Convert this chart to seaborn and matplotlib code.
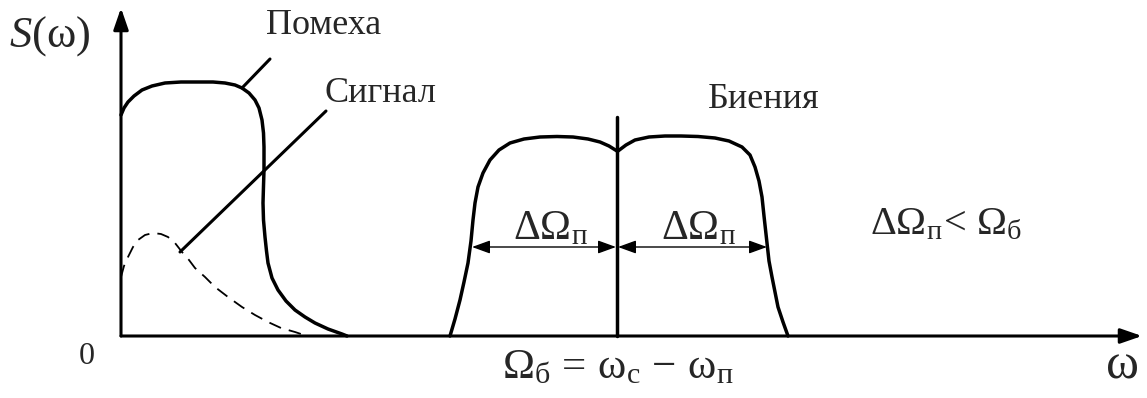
import numpy as np
import pandas as pd
import matplotlib
matplotlib.use("Agg")
import matplotlib.pyplot as plt
import seaborn as sns

sns.set_style("white")
plt.rcParams['font.family'] = ['Liberation Serif', 'DejaVu Serif']
plt.rcParams['mathtext.fontset'] = 'custom'
plt.rcParams['mathtext.rm'] = 'Liberation Serif'
plt.rcParams['mathtext.it'] = 'Liberation Serif:italic'
plt.rcParams['mathtext.default'] = 'rm'

# ---- data (schematic spectra) ----
interf_x = [0, 3, 7, 13, 21, 31, 44, 60, 77, 92, 104, 114, 121, 128, 134, 138, 141, 142.5, 143, 143,
            142.5, 142, 142.5, 144, 145.5, 147, 151, 157, 165, 174, 184, 194, 207, 221, 226]
interf_y = [221, 228, 234, 240, 246, 250, 253, 254, 254, 254, 253, 251, 248, 243, 236, 228, 216, 203, 189, 166,
            150, 133, 116, 99, 85, 73, 58, 46, 35, 26, 19, 13, 7, 2, 0]

signal_x = [0, 3, 7, 12, 17, 24, 32, 40, 47, 54, 61, 68, 74, 84, 94, 107, 121, 134, 147, 160, 174, 180]
signal_y = [59, 70, 79, 89, 96, 101, 103, 102, 99, 93, 84, 76, 68, 59, 49, 39, 29, 21, 14, 8, 4, 2]

beat_left_x = [329, 334, 339, 343, 347, 350, 352, 354, 357, 362, 369, 378, 389, 403, 419, 436, 452, 467, 479, 488, 496]
beat_left_y = [0, 17, 36, 54, 73, 95, 116, 133, 149, 163, 176, 186, 193, 197, 199, 199.5, 199, 197, 194, 190, 185]

beat_right_x = [497, 505, 514, 528, 544, 560, 577, 594, 608, 621, 629, 634, 638, 641, 643, 646, 648, 651, 654, 657, 662, 667]
beat_right_y = [185, 191, 196, 199, 200, 200, 199.5, 198, 195, 189, 181, 169, 155, 139, 120, 93, 75, 59, 44, 29, 14, 0]

beat_center = 496
beat_top = 219
band_level = 89
band_left = [351, 495]
band_right = [497, 646]

labels = {
    "interf": "Помеха",
    "signal": "Сигнал",
    "beats": "Биения",
}

W, H = 1147, 398
ox, oy = 121, 336
fig = plt.figure(figsize=(W / 100, H / 100), dpi=100)
ax = fig.add_axes([0, 0, 1, 1])
ax.set_xlim(-ox, W - ox)
ax.set_ylim(-(H - oy), oy)
ax.axis('off')

lw_main = 2.5
sns.lineplot(x=interf_x, y=interf_y, sort=False, estimator=None, color='black', lw=lw_main, ax=ax,
             solid_joinstyle='round', solid_capstyle='round')
sns.lineplot(x=signal_x, y=signal_y, sort=False, estimator=None, color='black', lw=1.3, ax=ax,
             linestyle=(0, (7, 4.5)))
sns.lineplot(x=beat_left_x, y=beat_left_y, sort=False, estimator=None, color='black', lw=lw_main, ax=ax,
             solid_joinstyle='round')
sns.lineplot(x=beat_right_x, y=beat_right_y, sort=False, estimator=None, color='black', lw=lw_main, ax=ax,
             solid_joinstyle='round')
sns.lineplot(x=[beat_center, beat_center], y=[0, beat_top], sort=False, estimator=None,
             color='black', lw=lw_main, ax=ax)

# leader lines
sns.lineplot(x=[121, 149], y=[248, 277], sort=False, estimator=None, color='black', lw=2.2, ax=ax)
sns.lineplot(x=[59, 205], y=[84, 225], sort=False, estimator=None, color='black', lw=2.2, ax=ax)

# axes with arrows
ax.annotate('', xy=(0, 328), xytext=(0, 0),
            arrowprops=dict(arrowstyle='-|>,head_length=1.3,head_width=0.45', mutation_scale=10,
                            lw=2.2, color='black', shrinkA=0, shrinkB=0))
ax.annotate('', xy=(1021, 0), xytext=(0, 0),
            arrowprops=dict(arrowstyle='-|>,head_length=1.3,head_width=0.45', mutation_scale=10,
                            lw=2.2, color='black', shrinkA=0, shrinkB=0))

# dimension arrows
for a, b in (band_left, band_right):
    ax.annotate('', xy=(b, band_level), xytext=(a, band_level),
                arrowprops=dict(arrowstyle='<|-|>,head_length=1.1,head_width=0.4', mutation_scale=10,
                                lw=1.0, color='black', shrinkA=0, shrinkB=0))

fs = 26
ax.text(145, 311, labels["interf"], fontsize=fs, ha='left', va='center')
ax.text(204, 242, labels["signal"], fontsize=fs, ha='left', va='center')
ax.text(587, 237, labels["beats"], fontsize=fs, ha='left', va='center')
ax.text(-71, 300, r'$\mathit{S}$(ω)', fontsize=32, ha='center', va='center')
ax.text(-34, -21, '0', fontsize=23, ha='center', va='center')
ax.text(1002, -30, 'ω', fontsize=36, ha='center', va='center')
ax.text(429, 107, r'$ΔΩ_{п}$', fontsize=30, ha='center', va='center')
ax.text(577, 107, r'$ΔΩ_{п}$', fontsize=30, ha='center', va='center')
ax.text(749, 111, r'$ΔΩ_{п}\!<\,Ω_{б}$', fontsize=29, ha='left', va='center')
ax.text(497, -32, r'$Ω_{б}\,=\,ω_{с}\,-\,ω_{п}$', fontsize=31, ha='center', va='center')

fig.savefig('out.png', dpi=100)
